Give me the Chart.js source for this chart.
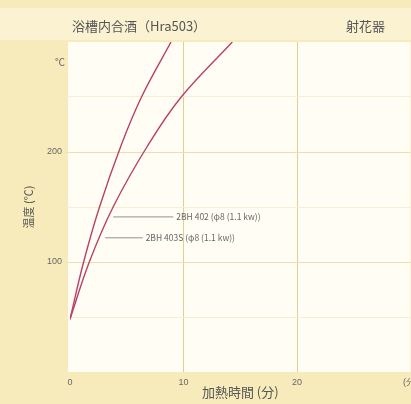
<!DOCTYPE html>
<html>
<head>
<meta charset="utf-8">
<script src="https://cdn.jsdelivr.net/npm/chart.js@4/dist/chart.umd.min.js"></script>
<style>
  html, body { margin: 0; padding: 0; background: #f8ebbb; overflow: hidden; }
  #wrap { width: 411px; height: 404px; position: relative; overflow: hidden; }
</style>
</head>
<body>
<div id="wrap"><canvas id="c" width="423" height="404"></canvas></div>
<script>
// values (minutes, degrees C)
var time402 = [0, 1.2, 2.6, 4.5, 6.3, 8.9];
var temp402 = [48, 100, 150, 206, 250, 300];
var time403 = [0, 1.7, 3.8, 6.8, 9.8, 14.3];
var temp403 = [48, 100, 150, 205, 250, 300];

var seriesNames = ['2BH 402 (φ8 (1.1 kw))', '2BH 403S (φ8 (1.1 kw))'];
var xTickLabels = {0: '0', 10: '10', 20: '20', 30: '(分)'};
var yTickLabels = {100: '100', 200: '200'};
var titleLeft = '浴槽内合酒（Hra503）';
var titleRight = '射花器';

function pts(xs, ys) {
  return xs.map(function(x, i) { return {x: x, y: ys[i]}; });
}

// leader label anchors in data units: [line start x, line end x, y]
var leaders = [[3.8, 9.1, 141], [3.1, 6.4, 122]];

var backdrop = {
  id: 'backdrop',
  beforeDraw: function(chart) {
    var ctx = chart.ctx, a = chart.chartArea;
    ctx.save();
    ctx.fillStyle = '#f8ebbb';
    ctx.fillRect(0, 0, chart.width, chart.height);
    ctx.fillStyle = '#fbf2d2';
    ctx.fillRect(0, 8, chart.width, 32);
    ctx.fillStyle = '#fffdf4';
    ctx.fillRect(a.left - 2, a.top, a.right - a.left + 2, a.bottom - a.top);
    ctx.restore();
  },
  afterDraw: function(chart) {
    var ctx = chart.ctx, xs = chart.scales.x, ys = chart.scales.y;
    ctx.save();
    ctx.fillStyle = '#555';
    ctx.font = '13px "Noto Sans CJK JP"';
    ctx.textBaseline = 'middle';
    ctx.fillText(titleLeft, 72, 26);
    ctx.fillText(titleRight, 346, 26);
    ctx.font = '10px "Noto Sans CJK JP"';
    ctx.fillStyle = '#666';
    ctx.fillText('℃', 55, ys.getPixelForValue(282));
    ctx.strokeStyle = '#777';
    ctx.lineWidth = 0.8;
    ctx.font = '8.5px "Noto Sans CJK JP"';
    leaders.forEach(function(l, i) {
      var x0 = xs.getPixelForValue(l[0]), x1 = xs.getPixelForValue(l[1]);
      var y = ys.getPixelForValue(l[2]);
      ctx.beginPath();
      ctx.moveTo(x0, y);
      ctx.lineTo(x1, y);
      ctx.stroke();
      ctx.fillText(seriesNames[i], x1 + 3, y);
    });
    ctx.restore();
  }
};

new Chart(document.getElementById('c'), {
  type: 'scatter',
  data: {
    datasets: [
      {label: seriesNames[0], data: pts(time402, temp402), showLine: true,
       borderColor: '#b8406a', borderWidth: 1.4, pointRadius: 0, tension: 0.4},
      {label: seriesNames[1], data: pts(time403, temp403), showLine: true,
       borderColor: '#b8406a', borderWidth: 1.4, pointRadius: 0, tension: 0.4}
    ]
  },
  options: {
    responsive: false,
    animation: false,
    layout: {padding: {top: 42, right: 0, left: 18, bottom: 0}},
    plugins: {legend: {display: false}, tooltip: {enabled: false}},
    scales: {
      x: {
        min: 0, max: 30,
        ticks: {stepSize: 10, color: '#666', font: {size: 9}, padding: 5,
                callback: function(v) { return xTickLabels[v] !== undefined ? xTickLabels[v] : ''; }},
        grid: {color: function(c) { return c.tick.value === 10 || c.tick.value === 20 ? '#e3cd92' : 'rgba(0,0,0,0)'; },
               drawTicks: false},
        border: {display: false},
        title: {display: true, text: '加熱時間 (分)', color: '#555', font: {size: 13, family: '"Noto Sans CJK JP"'}, padding: {top: 4}},
        afterFit: function(s) { s.height = 32; }
      },
      y: {
        min: 0, max: 300,
        ticks: {stepSize: 50, color: '#666', font: {size: 9}, padding: 3,
                callback: function(v) { return yTickLabels[v] || ''; }},
        grid: {color: function(c) {
                 var v = c.tick.value;
                 if (v === 100 || v === 200) return '#efdfae';
                 if (v === 0 || v === 300) return 'rgba(0,0,0,0)';
                 return '#f6eed3';
               }, tickLength: 5},
        border: {display: false},
        title: {display: true, text: '温度 (℃)', color: '#555', font: {size: 11, family: '"Noto Sans CJK JP"'}, padding: {bottom: 4}},
        afterFit: function(s) { s.width = 52; }
      }
    }
  },
  plugins: [backdrop]
});
</script>
</body>
</html>
